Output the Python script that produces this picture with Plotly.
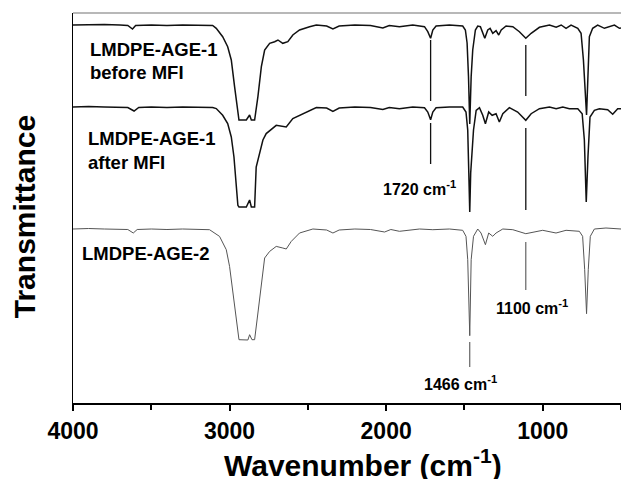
import plotly.graph_objects as go

# ---------------- data ----------------
# wavenumber (cm-1) and absorption depth below each spectrum's baseline (a.u.)
wn1 = [
    4000, 3900, 3800, 3700, 3650, 3620, 3600, 3500, 3400, 3300,
    3200, 3108, 3085, 3044, 3012, 2989, 2968, 2947, 2940, 2893,
    2872, 2861, 2840, 2819, 2797, 2776, 2744, 2712, 2691, 2660,
    2628, 2596, 2553, 2489, 2446, 2380, 2340, 2300, 2200, 2100,
    2021, 1980, 1915, 1830, 1755, 1734, 1716, 1702, 1681, 1596,
    1511, 1494, 1483, 1474, 1466, 1457, 1447, 1430, 1415, 1398,
    1383, 1370, 1351, 1336, 1319, 1298, 1281, 1265, 1234, 1191,
    1149, 1108, 1074, 1021, 957, 914, 882, 851, 819, 776,
    755, 740, 720, 713, 702, 681, 649, 606, 574, 542,
    510, 500]
d1 = [
    0, -0.5, -0.5, 0, 0.5, 4, 0.5, 0, 0.5, 0,
    0, 0.5, 3.3, 11.7, 21.7, 35, 61.7, 91.7, 95, 95,
    90, 95, 95, 71.7, 41.7, 25, 18.3, 16.7, 15, 18.3,
    16.7, 10, 5, 1.7, 0, 1, 4, 1, 0, 0.5,
    3, 0.5, 1.7, 0, 1.7, 6.7, 13.3, 5, 1, 0,
    1, 5, 18, 51.7, 99, 51.7, 25, 5, 1, 1.7,
    8.3, 13.3, 5, 3.3, 8.3, 5.7, 10, 5, 1, 1.7,
    6.7, 13.3, 8.3, 2.3, 0, 2.3, 0, 3.3, 0, 3.3,
    8.3, 35, 90, 51.7, 11.7, 3.3, 0, 3.3, 1.7, 0,
    3.3, 3]

wn2 = [
    4000, 3900, 3800, 3700, 3650, 3610, 3580, 3500, 3400, 3300,
    3200, 3108, 3085, 3044, 3012, 2989, 2972, 2957, 2947, 2940,
    2893, 2872, 2861, 2840, 2830, 2787, 2766, 2702, 2670, 2638,
    2596, 2510, 2446, 2380, 2340, 2300, 2200, 2100, 2021, 1980,
    1915, 1830, 1755, 1734, 1716, 1702, 1681, 1596, 1511, 1490,
    1479, 1472, 1466, 1460, 1442, 1425, 1404, 1383, 1366, 1345,
    1323, 1298, 1277, 1255, 1213, 1160, 1108, 1074, 1021, 957,
    914, 872, 830, 776, 748, 734, 722, 711, 698, 670,
    638, 585, 553, 521, 500]
d2 = [
    0, -0.5, 0, 0, 0.5, 4, 0.5, 0, 0.5, 0,
    0, 0.5, 1.6, 8.3, 16.6, 30, 50, 80, 98.3, 100,
    100, 93, 100, 100, 60, 33, 26.6, 18.3, 19, 20,
    11.6, 5, 0.6, 1, 4.3, 1, 0, 0.5, 2.5, 0.5,
    1.7, 0, 0.7, 5, 12.7, 5, 0.7, 0, 0, 5,
    23, 66, 105, 66, 23, 3.3, 0.7, 8.3, 16.7, 5,
    8.3, 6.7, 15, 6.7, 0.7, 5, 13.3, 6.7, 1.7, 0,
    1.7, 0, 1.7, 1.7, 6.7, 33, 95, 50, 10, 3.3,
    1.7, 2.7, 7.3, 1.7, 1.7]

wn3 = [
    4000, 3900, 3800, 3700, 3650, 3615, 3590, 3500, 3400, 3300,
    3200, 3128, 3064, 3021, 3000, 2979, 2957, 2940, 2883, 2872,
    2857, 2840, 2819, 2797, 2776, 2744, 2702, 2660, 2638, 2606,
    2553, 2468, 2380, 2340, 2300, 2200, 2100, 2010, 1970, 1915,
    1787, 1702, 1596, 1511, 1490, 1479, 1466, 1457, 1442, 1415,
    1394, 1366, 1345, 1319, 1298, 1255, 1191, 1108, 1064, 1000,
    915, 851, 766, 745, 732, 720, 709, 696, 670, 596,
    500]
d3 = [
    0, -0.5, 0, 0, 0.5, 4, 0.5, 0, 0.5, 0,
    0, 0.7, 7.4, 20.7, 37.4, 64, 94, 110.7, 111, 105.7,
    110.7, 110.7, 84, 54, 29, 22.4, 17.4, 19, 20, 12.4,
    4, 0, 1, 4, 1, 0, 0.5, 3, 0.5, 2.3,
    0, 0.7, 0, 1.3, 7.3, 30.7, 106.7, 30.7, 7.3, 0,
    4, 15.7, 4, 7.3, 4, 0, 0.7, 4.7, 3.3, 1.3,
    4, 1.3, 2.3, 7.3, 40.7, 84.7, 40.7, 7.3, 0, -1,
    0]

# vertical offsets of the stacked spectra (a.u.)
offset1, offset2, offset3 = 378, 296, 174

# peak marker lines: wavenumber, top and bottom (a.u.)
marker_wn = [1716, 1716, 1108, 1108, 1108, 1466]
marker_top = [363, 280, 358, 275, 161, 61]
marker_bot = [302, 239, 307, 193, 113, 36]

# sample labels
label_text = ["LMDPE-AGE-1", "before MFI", "LMDPE-AGE-1", "after MFI", "LMDPE-AGE-2"]
label_wn = [3906, 3906, 3919, 3919, 3957]
label_y = [354, 331, 265, 241, 150]

# peak labels
peak_text = ["1720 cm<sup>-1</sup>", "1100 cm<sup>-1</sup>", "1466 cm<sup>-1</sup>"]
peak_wn = [1787, 1069, 1525]
peak_y = [215, 96, 20]

x_major = [4000, 3000, 2000, 1000]

# ---------------- figure ----------------
FONT = "Liberation Sans, Arial, Helvetica, sans-serif"
fig = go.Figure()

for wn, d, off, col, w in [(wn1, d1, offset1, "#111111", 1.5),
                           (wn2, d2, offset2, "#111111", 1.5),
                           (wn3, d3, offset3, "#555555", 1.0)]:
    fig.add_trace(go.Scatter(x=wn, y=[off - v for v in d], mode="lines",
                             line=dict(color=col, width=w), showlegend=False,
                             hoverinfo="skip"))

# marker lines: black for the first two spectra, gray for the third
for idx, col, w in [([0, 1, 2, 3], "#111111", 1.3), ([4, 5], "#555555", 1.1)]:
    xs, ys = [], []
    for i in idx:
        xs += [marker_wn[i], marker_wn[i], None]
        ys += [marker_top[i], marker_bot[i], None]
    fig.add_trace(go.Scatter(x=xs, y=ys, mode="lines", line=dict(color=col, width=w),
                             showlegend=False, hoverinfo="skip"))

for t, x, y in zip(label_text, label_wn, label_y):
    fig.add_annotation(x=x, y=y, xref="x", yref="y", text=t, showarrow=False,
                       xanchor="left", yanchor="middle",
                       font=dict(family=FONT, size=18.5, color="black", weight="bold"))
for t, x, y in zip(peak_text, peak_wn, peak_y):
    fig.add_annotation(x=x, y=y, xref="x", yref="y", text=t, showarrow=False,
                       xanchor="center", yanchor="middle",
                       font=dict(family=FONT, size=16, color="black", weight="bold"))

# axis titles
fig.add_annotation(x=2148, y=-0.154, xref="x", yref="paper",
                   text="Wavenumber (cm<sup>-1</sup>)", showarrow=False,
                   xanchor="center", yanchor="middle",
                   font=dict(family=FONT, size=30, color="black", weight="bold"))
fig.add_annotation(x=-0.089, y=186, xref="paper", yref="y",
                   text="Transmittance", showarrow=False, textangle=-90,
                   xanchor="center", yanchor="middle",
                   font=dict(family=FONT, size=30, color="black", weight="bold"))

# gray top border
fig.add_shape(type="line", xref="paper", yref="paper", x0=0, x1=1, y0=1, y1=1,
              line=dict(color="#a0a0a0", width=1.5))

fig.update_layout(
    width=621, height=479,
    margin=dict(l=73, r=0, t=13, b=76),
    paper_bgcolor="white", plot_bgcolor="white",
    font=dict(family=FONT, color="black"),
    xaxis=dict(range=[4000, 500], tickvals=x_major,
               ticks="outside", ticklen=6, tickwidth=1.5, tickcolor="black",
               minor=dict(dtick=500, tick0=500, ticks="outside", ticklen=5,
                          tickwidth=1.5, tickcolor="black", showgrid=False),
               showline=True, linecolor="black", linewidth=1.8,
               showgrid=False, zeroline=False,
               tickfont=dict(family=FONT, size=23, weight="bold")),
    yaxis=dict(range=[0, 390], showticklabels=False, ticks="",
               showline=True, linecolor="black", linewidth=1.3,
               showgrid=False, zeroline=False),
)

fig.write_html("out.html")
